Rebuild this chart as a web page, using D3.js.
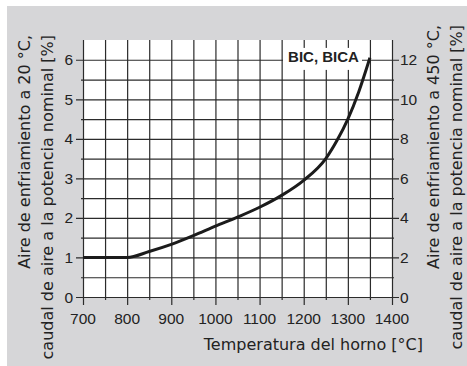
<!DOCTYPE html>
<html><head><meta charset="utf-8">
<script src="https://cdn.jsdelivr.net/npm/d3@7"></script>
<style>body{margin:0;background:#fff}svg{display:block}text{font-family:"Liberation Sans",Arial,sans-serif;fill:#222}.ttl{font-family:"DejaVu Sans",sans-serif}</style>
</head><body>
<script>
const temps = [700, 800, 850, 900, 950, 1000, 1050, 1100, 1150, 1200, 1250, 1275, 1300, 1325, 1350];
const airPct = [1, 1, 1.15, 1.33, 1.55, 1.79, 2.02, 2.27, 2.57, 2.95, 3.5, 3.95, 4.5, 5.2, 6.05];
const xTicks = [700, 800, 900, 1000, 1100, 1200, 1300, 1400];
const yTicks = [0, 1, 2, 3, 4, 5, 6];
const y2Ticks = [0, 2, 4, 6, 8, 10, 12];
const seriesLabel = "BIC, BICA";
const xTitle = "Temperatura del horno [°C]";
const yTitle = ["Aire de enfriamiento a 20 °C,", "caudal de aire a la potencia nominal [%]"];
const y2Title = ["Aire de enfriamiento a 450 °C,", "caudal de aire a la potencia nominal [%]"];

const W = 467, H = 366;
const svg = d3.select("body").append("svg").attr("width", W).attr("height", H);

svg.append("rect").attr("x", 7).attr("y", 6).attr("width", W - 7).attr("height", H - 6).attr("fill", "#d6d6d8");

const x = d3.scaleLinear().domain([700, 1400]).range([83, 392]);
const y = d3.scaleLinear().domain([0, 6.5]).range([297, 40]);
const y2 = d3.scaleLinear().domain([0, 13]).range([297, 40]);

svg.append("rect").attr("x", x(700)).attr("y", y(6.5)).attr("width", x(1400) - x(700)).attr("height", y(0) - y(6.5)).attr("fill", "#ffffff");

// grid via d3 axes
const vx = d3.range(700, 1401, 50);
const hy = d3.range(0, 6.01, 0.5);
const gx = svg.append("g").attr("transform", `translate(0,${y(0)})`)
  .call(d3.axisBottom(x).tickValues(vx).tickSizeInner(0).tickSizeOuter(0).tickFormat(""));
gx.select(".domain").remove();
gx.selectAll(".tick line")
  .attr("y1", d => -(y(0) - y(6.5))).attr("y2", d => d % 100 === 0 ? 8 : 3)
  .attr("stroke", "#2b2b2b").attr("stroke-width", 1.2);
const gy = svg.append("g").attr("transform", `translate(${x(700)},0)`)
  .call(d3.axisLeft(y).tickValues(hy).tickSizeInner(0).tickSizeOuter(0).tickFormat(""));
gy.select(".domain").remove();
gy.selectAll(".tick line")
  .attr("x1", d => -(d % 1 === 0 ? 7 : 2)).attr("x2", d => x(1400) - x(700) + (d % 1 === 0 ? 7 : 2))
  .attr("stroke", "#2b2b2b").attr("stroke-width", 1.2);

// label with white background
svg.append("rect").attr("x", 283).attr("y", y(6.3)).attr("width", 79).attr("height", 22).attr("fill", "#fff");

// curve
const line = d3.line().x(d => x(d[0])).y(d => y(d[1])).curve(d3.curveMonotoneX);
svg.append("path").datum(temps.map((t, i) => [t, airPct[i]]))
  .attr("d", line).attr("fill", "none").attr("stroke", "#1b1b1b").attr("stroke-width", 3);

svg.append("text").attr("x", x(1350) - 11).attr("y", y(6) + 2).attr("text-anchor", "end")
  .attr("font-size", 15).attr("font-weight", "bold").attr("fill", "#111").text(seriesLabel);

// tick labels
svg.append("g").selectAll("text").data(xTicks).enter().append("text")
  .attr("x", d => x(d)).attr("y", 324).attr("text-anchor", "middle").attr("font-size", 15.5).text(d => d);
svg.append("g").selectAll("text").data(yTicks).enter().append("text")
  .attr("x", 73).attr("y", d => y(d) + 5.5).attr("text-anchor", "end").attr("font-size", 15.5).text(d => d);
svg.append("g").selectAll("text").data(y2Ticks).enter().append("text")
  .attr("x", 400).attr("y", d => y2(d) + 5.5).attr("text-anchor", "start").attr("font-size", 15.5).text(d => d);

svg.append("text").attr("class", "ttl").attr("x", 423).attr("y", 350).attr("text-anchor", "end").attr("font-size", 16).text(xTitle);

yTitle.forEach((t, i) => {
  svg.append("text").attr("class", "ttl").attr("transform", `translate(${[30, 53][i]},35) rotate(-90)`)
    .attr("text-anchor", "end").attr("font-size", 16).text(t);
});
y2Title.forEach((t, i) => {
  svg.append("text").attr("class", "ttl").attr("transform", `translate(${[439, 462][i]},25) rotate(-90)`)
    .attr("text-anchor", "end").attr("font-size", 16).text(t);
});
</script>
</body></html>
